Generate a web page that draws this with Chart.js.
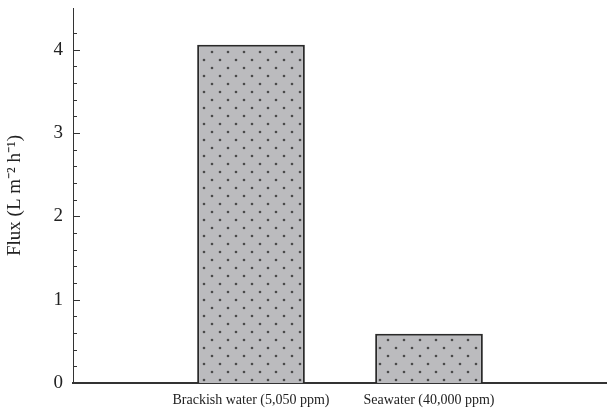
<!DOCTYPE html>
<html>
<head>
<meta charset="utf-8">
<script src="https://cdn.jsdelivr.net/npm/chart.js@4/dist/chart.umd.min.js"></script>
<style>
    html, body { margin: 0; padding: 0; background: #fff; }
    #wrap { width: 607px; height: 412px; }
</style>
</head>
<body>
<div id="wrap"><canvas id="fluxChart" width="607" height="412"></canvas></div>
<script>
// data
const categories = ['', 'Brackish water (5,050 ppm)', 'Seawater (40,000 ppm)', ''];
const fluxValues = [null, 4.06, 0.59, null];
const yMin = 0;
const yMax = 4.5;
const yMinorStep = 0.2;
const yLabelValues = [0, 1, 2, 3, 4];

const serif = "'Liberation Serif', 'Times New Roman', serif";

// dotted grey fill used in the original bars
function makeDotPattern() {
    const tile = document.createElement('canvas');
    tile.width = 16;
    tile.height = 16;
    const c = tile.getContext('2d');
    c.fillStyle = '#bbbbbe';
    c.fillRect(0, 0, 16, 16);
    c.fillStyle = '#4a4a4a';
    [[4, 4], [12, 12]].forEach(p => {
        c.beginPath();
        c.arc(p[0], p[1], 1.3, 0, Math.PI * 2);
        c.fill();
    });
    return c.createPattern(tile, 'repeat');
}

// ticks on the y axis point into the plot
const innerTicks = {
    id: 'innerTicks',
    afterDraw(chart) {
        const y = chart.scales.y;
        const ctx = chart.ctx;
        const x0 = chart.chartArea.left;
        ctx.save();
        ctx.strokeStyle = '#333';
        ctx.lineWidth = 1;
        y.ticks.forEach(t => {
            const steps = t.value / yMinorStep;
            if (Math.abs(steps - Math.round(steps)) > 1e-6) return;
            if (t.value === yMin) return;
            const major = yLabelValues.some(v => Math.abs(v - t.value) < 1e-6);
            const py = Math.round(y.getPixelForValue(t.value)) + 0.5;
            ctx.beginPath();
            ctx.moveTo(x0, py);
            ctx.lineTo(x0 + (major ? 7 : 4), py);
            ctx.stroke();
        });
        ctx.restore();
    }
};

new Chart(document.getElementById('fluxChart'), {
    type: 'bar',
    data: {
        labels: categories,
        datasets: [{
            data: fluxValues,
            backgroundColor: makeDotPattern(),
            borderColor: '#2a2a2a',
            borderWidth: 2,
            categoryPercentage: 1,
            barPercentage: 0.605
        }]
    },
    options: {
        responsive: false,
        animation: false,
        layout: { padding: { top: 8, right: 0, bottom: 0, left: 0 } },
        plugins: {
            legend: { display: false },
            tooltip: { enabled: false }
        },
        scales: {
            x: {
                offset: false,
                grid: { display: false, drawTicks: false },
                border: { display: true, color: '#333', width: 2 },
                ticks: {
                    autoSkip: false,
                    maxRotation: 0,
                    padding: 9,
                    color: '#222',
                    font: { family: serif, size: 14 }
                },
                afterFit(scale) {
                    scale.height = 29;
                    scale.paddingLeft = 0;
                    scale.paddingRight = 0;
                }
            },
            y: {
                min: yMin,
                max: yMax,
                grid: { display: false, drawTicks: false },
                border: { display: true, color: '#333', width: 1 },
                ticks: {
                    stepSize: yMinorStep,
                    autoSkip: false,
                    padding: 10,
                    color: '#222',
                    font: { family: serif, size: 19 },
                    callback: function(value) {
                        return yLabelValues.some(v => Math.abs(v - value) < 1e-6) ? String(Math.round(value)) : '';
                    }
                },
                title: {
                    display: true,
                    text: 'Flux (L m\u207B\u00B2 h\u207B\u00B9)',
                    color: '#222',
                    padding: { top: 4, bottom: 0 },
                    font: { family: serif, size: 19 }
                },
                afterFit(scale) {
                    scale.width = 73;
                    scale.paddingTop = 0;
                    scale.paddingBottom = 0;
                }
            }
        }
    },
    plugins: [innerTicks]
});
</script>
</body>
</html>
